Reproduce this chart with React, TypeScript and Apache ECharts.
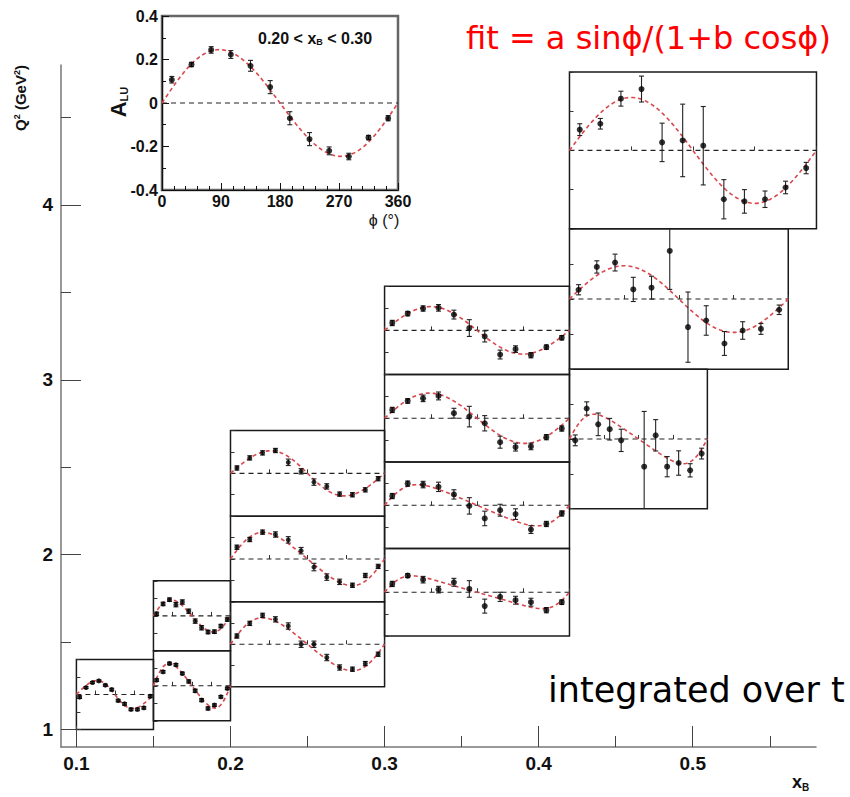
import React, { useEffect, useRef } from "react";
import * as echarts from "echarts";

// ---------- axis ticks ----------
const XB_MAJOR = [0.1, 0.2, 0.3, 0.4, 0.5];
const XB_MINOR = [0.15, 0.25, 0.35, 0.45, 0.55];
const Q2_MAJOR = [1, 2, 3, 4];
const Q2_MINOR = [1.5, 2.5, 3.5, 4.5];
const XB_RANGE = [0.09, 0.58];
const Q2_RANGE = [0.9, 4.8];

// ---------- phi bin centres (deg) ----------
const PHI = [15, 45, 75, 105, 135, 165, 195, 225, 255, 285, 315, 345];

// ---------- inset: 0.20 < xB < 0.30 ----------
const insetALU = [0.107, 0.177, 0.244, 0.223, 0.171, 0.073, -0.07, -0.166, -0.22, -0.246, -0.159, -0.07];
const insetErr = [0.015, 0.01, 0.015, 0.018, 0.025, 0.03, 0.03, 0.03, 0.018, 0.015, 0.01, 0.012];
const insetFit = [0.245, -0.05];

// ---------- bins (xB range, Q2 range) ----------
const binXB = [
  [0.1, 0.15], [0.15, 0.2], [0.15, 0.2],
  [0.2, 0.3], [0.2, 0.3], [0.2, 0.3],
  [0.3, 0.42], [0.3, 0.42], [0.3, 0.42], [0.3, 0.42],
  [0.42, 0.5095], [0.42, 0.562], [0.42, 0.5803],
];
const binQ2 = [
  [1.0, 1.4], [1.05, 1.45], [1.45, 1.85],
  [1.245, 1.73], [1.73, 2.22], [2.22, 2.71],
  [1.535, 2.035], [2.035, 2.53], [2.53, 3.03], [3.03, 3.535],
  [2.263, 3.06], [3.06, 3.863], [3.863, 4.76],
];

// ---------- A_LU per bin ----------
const aluP1 = [-0.03, 0.08, 0.137, 0.156, 0.107, 0.057, -0.069, -0.107, -0.17, -0.17, -0.152, -0.02];
const errP1 = [0.015, 0.012, 0.012, 0.012, 0.012, 0.015, 0.015, 0.015, 0.015, 0.015, 0.015, 0.015];
const aluP2 = [0.065, 0.16, 0.255, 0.24, 0.141, 0.05, -0.057, -0.164, -0.259, -0.221, -0.126, -0.03];
const errP2 = [0.015, 0.015, 0.015, 0.015, 0.015, 0.018, 0.018, 0.018, 0.018, 0.015, 0.015, 0.015];
const aluP3 = [0.023, 0.136, 0.185, 0.128, 0.158, 0.053, -0.06, -0.136, -0.185, -0.181, -0.117, -0.042];
const errP3 = [0.02, 0.02, 0.02, 0.025, 0.025, 0.025, 0.025, 0.025, 0.02, 0.02, 0.02, 0.02];
const aluP4 = [0.078, 0.197, 0.273, 0.235, 0.172, 0.0, 0.0, -0.125, -0.219, -0.235, -0.182, -0.094];
const errP4 = [0.02, 0.02, 0.02, 0.025, 0.03, 0.03, 0.03, 0.03, 0.025, 0.02, 0.02, 0.02];
const aluP5 = [0.11, 0.182, 0.251, 0.229, 0.179, 0.078, -0.075, -0.169, -0.213, -0.245, -0.154, -0.069];
const errP5 = [0.02, 0.02, 0.02, 0.025, 0.03, 0.03, 0.035, 0.03, 0.025, 0.02, 0.02, 0.02];
const aluP6 = [0.05, 0.144, 0.191, 0.213, 0.103, 0.019, -0.082, -0.122, -0.194, -0.2, -0.154, -0.05];
const errP6 = [0.02, 0.02, 0.02, 0.02, 0.03, 0.025, 0.03, 0.025, 0.02, 0.02, 0.02, 0.02];
const aluP7 = [0.076, 0.152, 0.115, 0.024, 0.091, 0.03, -0.127, -0.042, -0.073, -0.091, -0.164, -0.091];
const errP7 = [0.024, 0.018, 0.03, 0.03, 0.036, 0.076, 0.064, 0.042, 0.036, 0.036, 0.024, 0.021];
const aluP8 = [0.085, 0.2, 0.191, 0.17, 0.1, -0.006, -0.122, -0.046, -0.082, -0.225, -0.173, -0.076];
const errP8 = [0.024, 0.024, 0.03, 0.043, 0.043, 0.076, 0.067, 0.055, 0.049, 0.036, 0.024, 0.024];
const aluP9 = [0.076, 0.158, 0.182, 0.204, 0.046, 0.015, -0.046, -0.219, -0.264, -0.258, -0.173, -0.094];
const errP9 = [0.024, 0.021, 0.03, 0.036, 0.045, 0.094, 0.07, 0.055, 0.036, 0.03, 0.024, 0.024];
const aluP10 = [0.067, 0.152, 0.198, 0.204, 0.143, 0.021, -0.055, -0.219, -0.17, -0.225, -0.152, -0.067];
const errP10 = [0.024, 0.02, 0.024, 0.03, 0.04, 0.076, 0.05, 0.04, 0.03, 0.024, 0.02, 0.02];
const aluP11 = [-0.008, 0.175, 0.084, 0.056, -0.008, null, -0.159, 0.021, -0.159, -0.138, -0.18, -0.084];
const errP11 = [0.031, 0.038, 0.065, 0.062, 0.064, null, 0.317, 0.09, 0.058, 0.07, 0.038, 0.031];
const aluP12 = [0.053, 0.183, 0.208, 0.055, 0.065, 0.274, -0.16, -0.122, -0.253, -0.179, -0.17, -0.061];
const errP12 = [0.029, 0.035, 0.048, 0.069, 0.065, 0.219, 0.2, 0.084, 0.068, 0.05, 0.031, 0.027];
const aluP13 = [0.106, 0.136, 0.264, 0.313, 0.041, 0.051, 0.024, -0.249, -0.26, -0.249, -0.189, -0.09];
const errP13 = [0.03, 0.027, 0.038, 0.066, 0.098, 0.185, 0.2, 0.1, 0.06, 0.042, 0.032, 0.029];

// fit parameters [a, b] for a sinphi/(1+b cosphi)
const fitA = [0.159, 0.244, 0.183, 0.241, 0.24, 0.21, 0.12, 0.17, 0.23, 0.215, 0.127, 0.19, 0.27];
const fitB = [0.12, -0.29, -0.16, -0.26, -0.25, 0.07, -0.6, -0.45, -0.05, 0.0, -0.45, 0.0, 0.0];

const ALU = [aluP1, aluP2, aluP3, aluP4, aluP5, aluP6, aluP7, aluP8, aluP9, aluP10, aluP11, aluP12, aluP13];
const ERR = [errP1, errP2, errP3, errP4, errP5, errP6, errP7, errP8, errP9, errP10, errP11, errP12, errP13];

const FONT = '"Liberation Sans", Arial, Helvetica, sans-serif';
const FIT_COLOR = "#d9474c";

function fitCurve(a: number, b: number) {
  const pts: number[][] = [];
  for (let p = 0; p <= 360; p += 4) {
    const r = (p * Math.PI) / 180;
    pts.push([p, (a * Math.sin(r)) / (1 + b * Math.cos(r))]);
  }
  return pts;
}

function panelSeries(idx: number, alu: (number | null)[], err: (number | null)[], a: number, b: number, dotSize: number) {
  const pts = PHI.map((p, i) => [p, alu[i], err[i]]).filter((d) => d[1] !== null);
  return [
    {
      type: "line",
      xAxisIndex: idx,
      yAxisIndex: idx,
      data: [[0, 0], [360, 0]],
      symbol: "none",
      silent: true,
      lineStyle: { color: "#222", width: 1.1, type: [5, 4] },
      z: 2,
    },
    {
      type: "line",
      xAxisIndex: idx,
      yAxisIndex: idx,
      data: fitCurve(a, b),
      symbol: "none",
      silent: true,
      lineStyle: { color: FIT_COLOR, width: 1.6, type: [4, 3] },
      z: 3,
    },
    {
      type: "custom",
      xAxisIndex: idx,
      yAxisIndex: idx,
      data: pts,
      silent: true,
      z: 4,
      renderItem: (_p: any, api: any) => {
        const x = api.value(0);
        const v = api.value(1);
        const e = api.value(2);
        const lo = Math.max(v - e, -0.4);
        const hi = Math.min(v + e, 0.4);
        const pl = api.coord([x, lo]);
        const ph = api.coord([x, hi]);
        const st = { stroke: "#222", lineWidth: 1.1 };
        const ch: any[] = [
          { type: "line", shape: { x1: pl[0], y1: pl[1], x2: ph[0], y2: ph[1] }, style: st },
        ];
        if (v - e > -0.4) ch.push({ type: "line", shape: { x1: pl[0] - 2.5, y1: pl[1], x2: pl[0] + 2.5, y2: pl[1] }, style: st });
        if (v + e < 0.4) ch.push({ type: "line", shape: { x1: ph[0] - 2.5, y1: ph[1], x2: ph[0] + 2.5, y2: ph[1] }, style: st });
        return { type: "group", children: ch };
      },
    },
    {
      type: "scatter",
      xAxisIndex: idx,
      yAxisIndex: idx,
      data: pts.map((d) => [d[0], d[1]]),
      symbol: "circle",
      symbolSize: dotSize,
      itemStyle: { color: "#000" },
      silent: true,
      z: 5,
    },
  ];
}

function mainAxes() {
  const lbl = { fontFamily: FONT, fontWeight: "bold", fontSize: 19, color: "#111" };
  const xAxis: any[] = [
    {
      gridIndex: 0, type: "value", position: "bottom", min: XB_RANGE[0], max: XB_RANGE[1],
      axisLine: { show: true, lineStyle: { color: "#777", width: 1.5 } },
      axisTick: { show: true, inside: true, length: 21, customValues: XB_MAJOR, lineStyle: { color: "#444", width: 1 } },
      axisLabel: { show: true, customValues: XB_MAJOR, margin: 7, formatter: (v: number) => v.toFixed(1), ...lbl },
      splitLine: { show: false },
    },
    {
      gridIndex: 0, type: "value", position: "bottom", min: XB_RANGE[0], max: XB_RANGE[1],
      axisLine: { show: false },
      axisTick: { show: true, inside: true, length: 11, customValues: XB_MINOR, lineStyle: { color: "#444", width: 1 } },
      axisLabel: { show: false },
      splitLine: { show: false },
    },
  ];
  const yAxis: any[] = [
    {
      gridIndex: 0, type: "value", position: "left", min: Q2_RANGE[0], max: Q2_RANGE[1],
      axisLine: { show: true, lineStyle: { color: "#777", width: 1.5 } },
      axisTick: { show: true, inside: true, length: 20, customValues: Q2_MAJOR, lineStyle: { color: "#444", width: 1 } },
      axisLabel: { show: true, customValues: Q2_MAJOR, margin: 8, formatter: (v: number) => String(v), ...lbl },
      splitLine: { show: false },
    },
    {
      gridIndex: 0, type: "value", position: "left", min: Q2_RANGE[0], max: Q2_RANGE[1],
      axisLine: { show: false },
      axisTick: { show: true, inside: true, length: 10, customValues: Q2_MINOR, lineStyle: { color: "#444", width: 1 } },
      axisLabel: { show: false },
      splitLine: { show: false },
    },
  ];
  return { xAxis, yAxis };
}

const graphics = [
  {
    type: "text", x: 20, y: 98, rotation: Math.PI / 2,
    style: {
      text: "{a|Q}{s|2}{a| (GeV}{s|2}{a|)}", align: "center", verticalAlign: "middle",
      rich: {
        a: { fontFamily: FONT, fontWeight: "bold", fontSize: 15, fill: "#111" },
        s: { fontFamily: FONT, fontWeight: "bold", fontSize: 9, fill: "#111", padding: [0, 0, 7, 0] },
      },
    },
  },
  {
    type: "text", x: 792, y: 782,
    style: {
      text: "{a|x}{b|B}", fill: "#111", align: "left", verticalAlign: "middle",
      rich: {
        a: { fontFamily: FONT, fontWeight: "bold", fontSize: 18, fill: "#111" },
        b: { fontFamily: FONT, fontWeight: "bold", fontSize: 10, fill: "#111", padding: [10, 0, 0, 0] },
      },
    },
  },
  {
    type: "text", x: 466, y: 38,
    style: { text: "fit = a sinϕ/(1+b cosϕ)", fontFamily: '"DejaVu Sans", sans-serif', fontSize: 32, fill: "#ff0000", align: "left", verticalAlign: "middle" },
  },
  {
    type: "text", x: 548, y: 690,
    style: { text: "integrated over t", fontFamily: '"DejaVu Sans", sans-serif', fontSize: 35, fill: "#000", align: "left", verticalAlign: "middle" },
  },
  {
    type: "text", x: 258, y: 38,
    style: {
      text: "{a|0.20 < x}{b|B}{a| < 0.30}", align: "left", verticalAlign: "middle",
      rich: {
        a: { fontFamily: FONT, fontWeight: "bold", fontSize: 16, fill: "#111" },
        b: { fontFamily: FONT, fontWeight: "bold", fontSize: 9, fill: "#111", padding: [8, 0, 0, 0] },
      },
    },
  },
  {
    type: "text", x: 118, y: 102, rotation: Math.PI / 2,
    style: {
      text: "{a|A}{b|LU}", align: "center", verticalAlign: "middle",
      rich: {
        a: { fontFamily: FONT, fontWeight: "bold", fontSize: 22, fill: "#111" },
        b: { fontFamily: FONT, fontWeight: "bold", fontSize: 11, fill: "#111", padding: [12, 0, 0, 0] },
      },
    },
  },
  {
    type: "text", x: 384, y: 220,
    style: { text: "ϕ (°)", fontFamily: FONT, fontSize: 16, fill: "#111", align: "center", verticalAlign: "middle" },
  },
];

export default function App() {
  const ref = useRef<HTMLDivElement>(null);
  useEffect(() => {
    if (!ref.current) return;
    const chart = echarts.init(ref.current, null, { renderer: "svg" });
    const mainGrid = { left: 61, top: 65, width: 755, height: 682, show: false };
    const base = mainAxes();
    chart.setOption({ animation: false, grid: [mainGrid], xAxis: base.xAxis, yAxis: base.yAxis, series: [] });

    const grids: any[] = [mainGrid];
    const xAxis: any[] = [...base.xAxis];
    const yAxis: any[] = [...base.yAxis];
    const series: any[] = [];

    // inset
    grids.push({ left: 162, top: 16, width: 236, height: 174, show: true, borderColor: "#666", borderWidth: 2.5, backgroundColor: "#fff" });
    const il = { fontFamily: FONT, fontWeight: "bold", fontSize: 16, color: "#111" };
    xAxis.push({
      gridIndex: 1, type: "value", min: 0, max: 360, interval: 90,
      axisLine: { show: true, onZero: false, lineStyle: { color: "#111", width: 1.2 } },
      axisTick: { show: true, inside: true, length: 7, lineStyle: { color: "#111" } },
      minorTick: { show: true, splitNumber: 5, length: 4, lineStyle: { color: "#111" } },
      axisLabel: { show: true, margin: 3, ...il },
      splitLine: { show: false },
    });
    yAxis.push({
      gridIndex: 1, type: "value", min: -0.4, max: 0.4, interval: 0.2,
      axisLine: { show: true, onZero: false, lineStyle: { color: "#111", width: 1.2 } },
      axisTick: { show: true, inside: true, length: 7, lineStyle: { color: "#111" } },
      minorTick: { show: true, splitNumber: 2, length: 4, lineStyle: { color: "#111" } },
      axisLabel: { show: true, margin: 4, formatter: (v: number) => (Math.abs(v) < 1e-9 ? "0" : String(Math.round(v * 10) / 10)), ...il },
      splitLine: { show: false },
    });
    series.push(...panelSeries(2, insetALU, insetErr, insetFit[0], insetFit[1], 6));

    // bins
    for (let k = 0; k < binXB.length; k++) {
      const tl = chart.convertToPixel({ xAxisIndex: 0, yAxisIndex: 0 }, [binXB[k][0], binQ2[k][1]]) as number[];
      const br = chart.convertToPixel({ xAxisIndex: 0, yAxisIndex: 0 }, [binXB[k][1], binQ2[k][0]]) as number[];
      const gi = grids.length;
      grids.push({
        left: tl[0], top: tl[1], width: br[0] - tl[0], height: br[1] - tl[1],
        show: true, borderColor: "#1a1a1a", borderWidth: 1.5, backgroundColor: "transparent",
      });
      const ai = xAxis.length;
      xAxis.push({
        gridIndex: gi, type: "value", min: 0, max: 360, interval: 90,
        axisLine: { show: false },
        axisTick: { show: true, inside: true, length: 4, lineStyle: { color: "#333" } },
        axisLabel: { show: false }, splitLine: { show: false },
      });
      yAxis.push({
        gridIndex: gi, type: "value", min: -0.4, max: 0.4, interval: 0.2,
        axisLine: { show: false },
        axisTick: { show: true, inside: true, length: 4, lineStyle: { color: "#333" } },
        axisLabel: { show: false }, splitLine: { show: false },
      });
      const big = binXB[k][0] >= 0.3;
      series.push(...panelSeries(ai, ALU[k], ERR[k], fitA[k], fitB[k], big ? 6 : 5));
    }

    chart.setOption(
      { animation: false, grid: grids, xAxis, yAxis, series, graphic: graphics },
      true
    );
    return () => chart.dispose();
  }, []);
  return (
    <div
      ref={ref}
      style={{ position: "fixed", left: 0, top: 0, width: 850, height: 797, background: "#fff" }}
    />
  );
}
